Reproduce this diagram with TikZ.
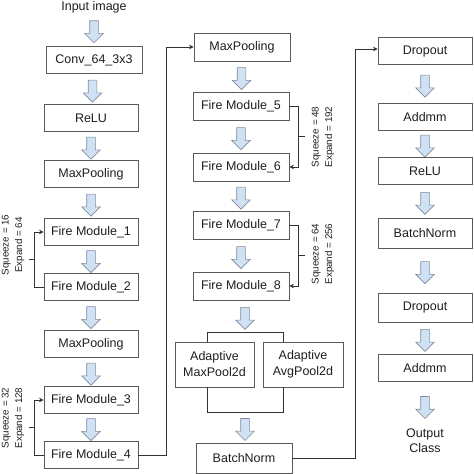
\documentclass[tikz,border=0pt]{standalone}
\usepackage{fontspec}
\setmainfont{Liberation Sans}
\usetikzlibrary{shapes.arrows,arrows.meta,calc}
\definecolor{boxc}{HTML}{5A5A5A}
\definecolor{arrc}{HTML}{7D8C9C}
\definecolor{arrf}{HTML}{CFE1F3}
\definecolor{txt}{HTML}{1E1E1E}
\definecolor{lnc}{HTML}{333333}
\begin{document}
\begin{tikzpicture}[x=1pt,y=-1pt,
  box/.style={draw=boxc, line width=0.8pt, minimum width=94pt, minimum height=27pt, inner sep=0pt,
    font=\fontsize{12.5}{16}\selectfont, text=txt, align=center},
  lbl/.style={font=\fontsize{12.5}{15}\selectfont, text=txt, align=center, inner sep=0pt},
  sq/.style={rotate=90, font=\fontsize{9.8}{13.5}\selectfont, text=txt, align=center, inner sep=0pt},
  barrow/.style={single arrow, draw=arrc, fill=arrf, line width=0.6pt, minimum height=22pt,
    minimum width=18pt, single arrow head extend=5pt, inner sep=4pt, rotate=-90},
  ln/.style={draw=lnc, line width=0.8pt},
  tip/.style={-{Stealth[length=4.5pt,width=4.5pt]}}
]
\useasboundingbox (0,0) rectangle (474,474);

% column 1
\node[lbl] (in) at (94,7) {Input image};
\node[box, minimum width=96pt] (conv) at (94,60) {Conv\_64\_3x3};
\node[box] (relu1) at (91,118) {ReLU};
\node[box] (mp1) at (91,174) {MaxPooling};
\node[box] (f1) at (91,232) {Fire Module\_1};
\node[box] (f2) at (91,287) {Fire Module\_2};
\node[box] (mp2) at (91,344) {MaxPooling};
\node[box] (f3) at (91,400) {Fire Module\_3};
\node[box] (f4) at (91,455) {Fire Module\_4};

% column 2
\node[box, minimum width=96pt, minimum height=28pt] (mp3) at (242,47) {MaxPooling};
\node[box, minimum width=96pt, minimum height=28pt] (f5) at (241,106) {Fire Module\_5};
\node[box, minimum width=96pt, minimum height=28pt] (f6) at (241,167) {Fire Module\_6};
\node[box, minimum width=96pt, minimum height=28pt] (f7) at (241,225) {Fire Module\_7};
\node[box, minimum width=96pt, minimum height=28pt] (f8) at (241,286) {Fire Module\_8};
\node[box, minimum width=79pt, minimum height=45pt] (amp) at (214.5,364.5) {Adaptive\\MaxPool2d};
\node[box, minimum width=80pt, minimum height=45pt] (aap) at (303,364.5) {Adaptive\\AvgPool2d};
\node[box, minimum width=96pt, minimum height=30pt] (bn1) at (244,458) {BatchNorm};
\coordinate (spt) at (245,332);
\coordinate (spb) at (245,412);
\coordinate (spl) at (207,332);
\coordinate (spr) at (283,332);

% column 3
\node[box] (do1) at (425,51) {Dropout};
\node[box] (ad1) at (425,117) {Addmm};
\node[box] (relu2) at (425,171) {ReLU};
\node[box, minimum height=30pt] (bn2) at (425,233) {BatchNorm};
\node[box, minimum height=29pt] (do2) at (425,307.5) {Dropout};
\node[box] (ad2) at (425,368) {Addmm};
\node[lbl] (out) at (425,441) {Output\\Class};

% block arrows
\foreach \a/\b in {in/conv, conv/relu1, relu1/mp1, mp1/f1, f1/f2, f2/mp2, mp2/f3, f3/f4,
                   mp3/f5, f5/f6, f6/f7, f7/f8,
                   do1/ad1, ad1/relu2, relu2/bn2, bn2/do2, do2/ad2, ad2/out}
  \node[barrow] at ($(\a.south)!0.5!(\b.north)$) {};
\node[barrow] at ($(f8.south -| spt)!0.5!(spt)$) {};
\node[barrow] at ($(spb)!0.5!(bn1.north -| spb)$) {};

% split / merge lines
\draw[ln] (spl |- amp.north) -- (spl) -- (spr) -- (spr |- aap.north);
\draw[ln] (spl |- amp.south) -- (spl |- spb) -- (spr |- spb) -- (spr |- aap.south);

% long connectors
\draw[ln, tip] (f4.east) -- ++(28,0) |- (mp3.west);
\draw[ln, tip] (bn1.east) -- ++(63,0) |- ($(do1.west)+(0,-2)$);

% brackets
\draw[ln, tip] (f2.west) -- ++(-9,0) |- (f1.west);
\draw[ln] ($(f1.west)!0.5!(f2.west)+(-9,0)$) -- ++(-6,0);
\node[sq] at (13,245) {Squeeze = 16\\Expand = 64};

\draw[ln, tip] (f4.west) -- ++(-9,0) |- (f3.west);
\draw[ln] ($(f3.west)!0.5!(f4.west)+(-9,0)$) -- ++(-6,0);
\node[sq] at (13,418) {Squeeze = 32\\Expand = 128};

\draw[ln, tip] (f5.east) -- ++(9,0) |- (f6.east);
\draw[ln] ($(f5.east)!0.5!(f6.east)+(9,0)$) -- ++(7,0);
\node[sq] at (323,137) {Squeeze = 48\\Expand = 192};

\draw[ln, tip] (f7.east) -- ++(9,0) |- (f8.east);
\draw[ln] ($(f7.east)!0.5!(f8.east)+(9,0)$) -- ++(7,0);
\node[sq] at (323,254) {Squeeze = 64\\Expand = 256};
\end{tikzpicture}
\end{document}
